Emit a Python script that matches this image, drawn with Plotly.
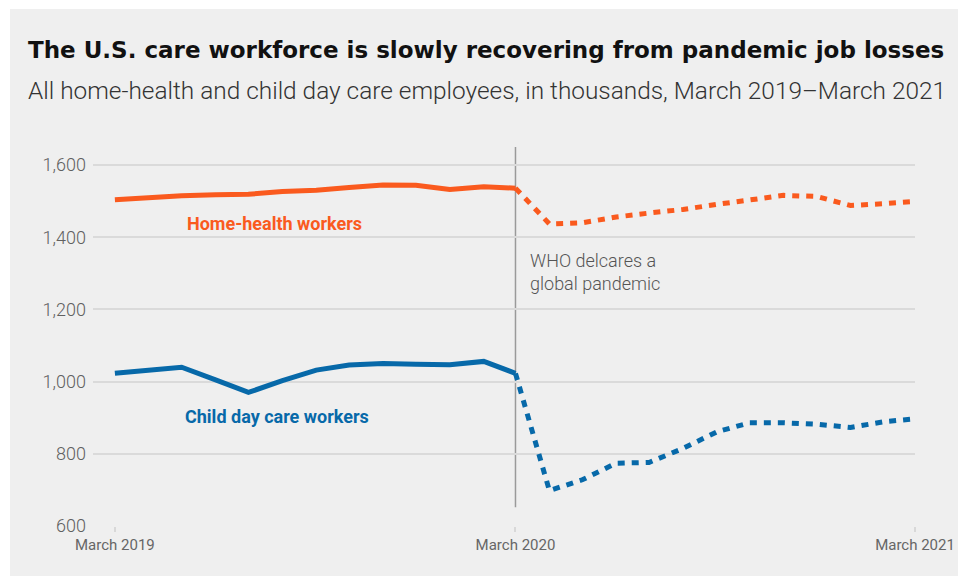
import plotly.graph_objects as go

months_pre = ["2019-03-01","2019-04-01","2019-05-01","2019-06-01","2019-07-01","2019-08-01",
              "2019-09-01","2019-10-01","2019-11-01","2019-12-01","2020-01-01","2020-02-01","2020-03-01"]
months_post = ["2020-03-01","2020-04-01","2020-05-01","2020-06-01","2020-07-01","2020-08-01",
               "2020-09-01","2020-10-01","2020-11-01","2020-12-01","2021-01-01","2021-02-01","2021-03-01"]

home_pre = [1504, 1511, 1515, 1518, 1519, 1527, 1530, 1538, 1545, 1544, 1532, 1540, 1536]
home_post = [1536, 1437, 1440, 1456, 1467, 1477, 1491, 1502, 1516, 1513, 1488, 1493, 1499]
child_pre = [1023, 1032, 1040, 1005, 970, 1003, 1032, 1046, 1050, 1048, 1047, 1056, 1023]
child_post = [1023, 698, 728, 774, 776, 815, 861, 886, 886, 882, 873, 889, 897]

tick_vals = ["2019-03-01", "2020-03-01", "2021-03-01"]
tick_text = ["March 2019", "March 2020", "March 2021"]
y_ticks = [600, 800, 1000, 1200, 1400, 1600]

ORANGE = "#FA5A1E"
BLUE = "#0769A9"
BG = "#efefef"
FONT = "Roboto"

fig = go.Figure()
fig.add_trace(go.Scatter(x=months_pre, y=home_pre, mode="lines",
                         line=dict(color=ORANGE, width=5), hoverinfo="skip"))
fig.add_trace(go.Scatter(x=months_post, y=home_post, mode="lines",
                         line=dict(color=ORANGE, width=5, dash="7px,7px"), hoverinfo="skip"))
fig.add_trace(go.Scatter(x=months_pre, y=child_pre, mode="lines",
                         line=dict(color=BLUE, width=5), hoverinfo="skip"))
fig.add_trace(go.Scatter(x=months_post, y=child_post, mode="lines",
                         line=dict(color=BLUE, width=5, dash="7px,7px"), hoverinfo="skip"))

L, R, T, B = 93, 43, 147, 50
W, H = 958, 576
pw, ph = W - L - R, H - T - B

def px(x):
    return (x - L) / pw

def py(y):
    return (H - B - y) / ph

shapes = [
    dict(type="rect", xref="paper", yref="paper", x0=px(0), x1=px(10), y0=py(H), y1=py(0),
         fillcolor="white", line=dict(width=0), layer="below"),
    dict(type="rect", xref="paper", yref="paper", x0=px(0), x1=px(W), y0=py(9), y1=py(0),
         fillcolor="white", line=dict(width=0), layer="below"),
    dict(type="line", xref="x", yref="y", x0="2020-03-01", x1="2020-03-01", y0=652, y1=1650,
         line=dict(color="#9a9a9a", width=1.5), layer="below"),
]

annotations = [
    dict(text="<b>The U.S. care workforce is slowly recovering from pandemic job losses</b>",
         xref="paper", yref="paper", x=px(26), y=py(50), xanchor="left", yanchor="middle",
         showarrow=False, font=dict(family="DejaVu Sans", size=23, color="#111")),
    dict(text="All home-health and child day care employees, in thousands, March 2019\u2013March 2021",
         xref="paper", yref="paper", x=px(26), y=py(90), xanchor="left", yanchor="middle",
         showarrow=False, font=dict(family=FONT, size=24.4, color="#333", weight=300)),
    dict(text="<b>Home-health workers</b>", xref="paper", yref="paper", x=px(274), y=py(223),
         xanchor="center", yanchor="middle", showarrow=False,
         font=dict(family=FONT, size=18, color=ORANGE)),
    dict(text="<b>Child day care workers</b>", xref="paper", yref="paper", x=px(277), y=py(416),
         xanchor="center", yanchor="middle", showarrow=False,
         font=dict(family=FONT, size=18, color=BLUE)),
    dict(text="WHO delcares a<br>global pandemic", xref="paper", yref="paper", x=px(528), y=py(272),
         xanchor="left", yanchor="middle", align="left", showarrow=False,
         font=dict(family=FONT, size=18, color="#555", weight=300)),
]

fig.update_layout(
    width=W, height=H, autosize=False,
    margin=dict(l=L, r=R, t=T, b=B),
    paper_bgcolor=BG, plot_bgcolor=BG,
    showlegend=False,
    shapes=shapes,
    annotations=annotations,
    xaxis=dict(type="date", range=["2019-02-09", "2021-03-01"], tickvals=tick_vals, ticktext=tick_text,
               showgrid=False, zeroline=False, showline=False, automargin=False,
               ticks="outside", ticklen=5, tickcolor="#d8d8d8", tickwidth=1.5,
               tickfont=dict(family=FONT, size=15, color="#666"), fixedrange=True),
    yaxis=dict(range=[600, 1650], tickvals=y_ticks, tickformat=",", showgrid=True, automargin=False,
               gridcolor="#dadada", gridwidth=1.5, zeroline=False, showline=False,
               ticks="", ticklabelstandoff=6,
               tickfont=dict(family=FONT, size=18, color="#606060", weight=300), fixedrange=True),
)

fig.write_html("out.html", config={"displayModeBar": False})
